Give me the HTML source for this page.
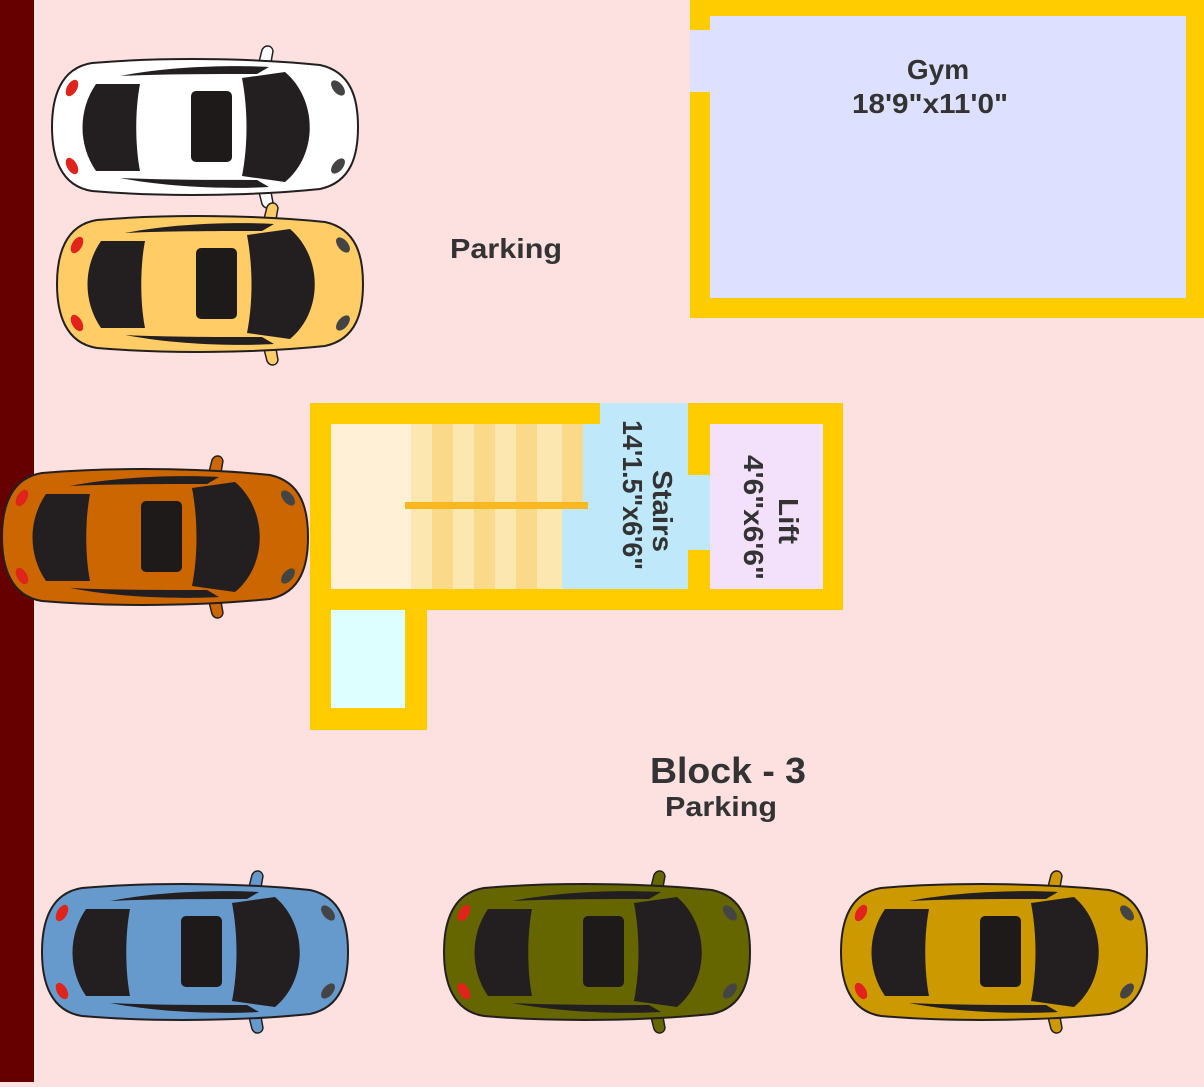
<!DOCTYPE html>
<html><head><meta charset="utf-8"><style>
html,body{margin:0;padding:0;}
body{width:1204px;height:1082px;overflow:hidden;background:#fde0e0;}
text{font-family:"Liberation Sans",sans-serif;font-weight:bold;fill:#333;}
</style></head><body>
<svg width="1204" height="1082" viewBox="0 0 1204 1082" xmlns="http://www.w3.org/2000/svg">
<defs>
<path id="mir" d="M206,6 L210,-10 C213,-16 220,-15 221,-9 L218,8Z M206,128 L210,144 C213,150 220,149 221,143 L218,126Z" stroke="#231f20" stroke-width="1.5"/>
<path id="body" d="M40,3 C110,-3 200,-2 268,5 C300,12 306,40 306,67 C306,94 300,122 268,129 C200,136 110,137 40,131 C8,126 0,96 0,67 C0,38 8,8 40,3Z" stroke="#231f20" stroke-width="2"/>
<g id="carparts">
  <path d="M68,16 C120,6 180,5 217,7 L205,14 C160,14 110,14 68,16Z" fill="#231f20"/>
  <path d="M68,118 C120,128 180,129 217,127 L205,120 C160,120 110,120 68,118Z" fill="#231f20"/>
  <path d="M44,24 L88,24 C83,50 83,85 88,111 L44,111 C26,85 26,50 44,24Z" fill="#231f20"/>
  <rect x="139" y="31" width="41" height="71" rx="5" fill="#1e1a19"/>
  <path d="M190,18 L233,12 C266,40 266,95 233,122 L190,116 C196,85 196,50 190,18Z" fill="#231f20"/>
  <ellipse cx="20" cy="28" rx="5" ry="9" transform="rotate(30 20 28)" fill="#e0241c"/>
  <ellipse cx="20" cy="106" rx="5" ry="9" transform="rotate(-30 20 106)" fill="#e0241c"/>
  <ellipse cx="286" cy="28" rx="5" ry="9" transform="rotate(-40 286 28)" fill="#444"/>
  <ellipse cx="286" cy="106" rx="5" ry="9" transform="rotate(40 286 106)" fill="#444"/>
</g>
</defs>
<rect x="0" y="0" width="34" height="1082" fill="#660000"/>

<!-- Gym -->
<rect x="690" y="0" width="514" height="318" fill="#ffcc00"/>
<rect x="710" y="16" width="476" height="282" fill="#dde0ff"/>
<rect x="690" y="30" width="22" height="62" fill="#dde0ff"/>
<text x="938" y="79" font-size="28" text-anchor="middle">Gym</text>
<text x="852" y="113" font-size="28" textLength="156" lengthAdjust="spacingAndGlyphs">18'9"x11'0"</text>

<text x="450" y="258" font-size="28" textLength="112" lengthAdjust="spacingAndGlyphs">Parking</text>

<!-- stair block -->
<rect x="310" y="403" width="533" height="207" fill="#ffcc00"/>
<rect x="310" y="600" width="117" height="130" fill="#ffcc00"/>
<rect x="331" y="424" width="80" height="165" fill="#fff0d6"/>
<g>
<rect x="411" y="424" width="21" height="165" fill="#fde7b0"/>
<rect x="432" y="424" width="21" height="165" fill="#fbd98a"/>
<rect x="453" y="424" width="21" height="165" fill="#fde7b0"/>
<rect x="474" y="424" width="21" height="165" fill="#fbd98a"/>
<rect x="495" y="424" width="21" height="165" fill="#fde7b0"/>
<rect x="516" y="424" width="21" height="165" fill="#fbd98a"/>
<rect x="537" y="424" width="25" height="165" fill="#fde7b0"/>
<rect x="562" y="424" width="21" height="82" fill="#fbd98a"/>
</g>
<path d="M600,403 L688,403 L688,589 L562,589 L562,506 L583,506 L583,424 L600,424Z" fill="#bfe8fb"/>
<rect x="686" y="475" width="26" height="75" fill="#bfe8fb"/>
<rect x="405" y="502" width="183" height="7" fill="#f9b820"/>
<rect x="710" y="424" width="113" height="165" fill="#f3e0fb"/>
<rect x="331" y="610" width="74" height="98" fill="#ddffff"/>
<text transform="translate(653,470) rotate(90)" font-size="28" textLength="82" lengthAdjust="spacingAndGlyphs">Stairs</text>
<text transform="translate(623,420) rotate(90)" font-size="28" textLength="150" lengthAdjust="spacingAndGlyphs">14'1.5"x6'6"</text>
<text transform="translate(779,498) rotate(90)" font-size="28" textLength="46" lengthAdjust="spacingAndGlyphs">Lift</text>
<text transform="translate(744,455) rotate(90)" font-size="28" textLength="125" lengthAdjust="spacingAndGlyphs">4'6"x6'6"</text>

<text x="650" y="783" font-size="36" textLength="156" lengthAdjust="spacingAndGlyphs">Block - 3</text>
<text x="665" y="816" font-size="28" textLength="112" lengthAdjust="spacingAndGlyphs">Parking</text>

<!-- cars -->
<g transform="translate(52,60)" fill="#fff"><use href="#mir"/><use href="#body"/><use href="#carparts"/></g>
<g transform="translate(57,217)" fill="#ffcc66"><use href="#mir"/><use href="#body"/><use href="#carparts"/></g>
<g transform="translate(2,470)" fill="#cc6600"><use href="#mir"/><use href="#body"/><use href="#carparts"/></g>
<g transform="translate(42,885)" fill="#6699cc"><use href="#mir"/><use href="#body"/><use href="#carparts"/></g>
<g transform="translate(444,885)" fill="#666600"><use href="#mir"/><use href="#body"/><use href="#carparts"/></g>
<g transform="translate(841,885)" fill="#cc9900"><use href="#mir"/><use href="#body"/><use href="#carparts"/></g>
</svg>
</body></html>
